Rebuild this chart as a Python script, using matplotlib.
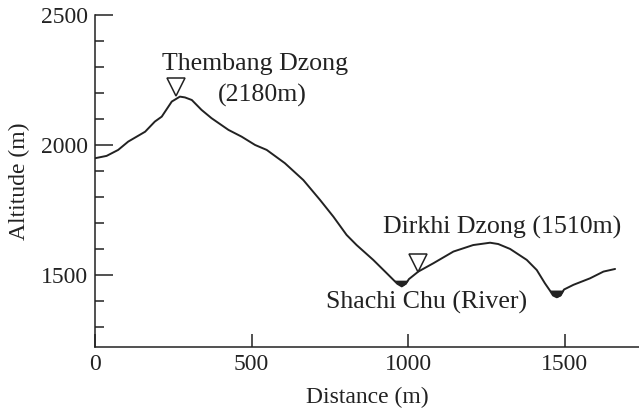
import matplotlib
matplotlib.use("Agg")
import matplotlib.pyplot as plt
import numpy as np
from matplotlib.ticker import MultipleLocator

plt.rcParams['font.family'] = ['Liberation Serif', 'DejaVu Serif']

distance = [0, 37, 74, 106, 160, 191, 213, 245, 271, 287, 309, 340, 372, 426, 468,
            511, 548, 606, 665, 718, 761, 803, 835, 888, 930, 950, 965, 979, 992,
            1002, 1032, 1080, 1144, 1207, 1261, 1287, 1325, 1378, 1410, 1436, 1452,
            1462, 1474, 1486, 1497, 1527, 1580, 1623, 1660]
altitude = [1949, 1958, 1981, 2013, 2051, 2090, 2109, 2167, 2186, 2183, 2173, 2135, 2103,
            2058, 2032, 2000, 1981, 1930, 1865, 1789, 1724, 1654, 1615, 1558, 1508,
            1484, 1466, 1456, 1466, 1484, 1513, 1545, 1590, 1615, 1624, 1619, 1600,
            1558, 1519, 1468, 1440, 1421, 1414, 1421, 1444, 1462, 1487, 1513, 1523]

river_levels = [1480, 1442]
river_spans = [(940, 1010), (1440, 1505)]

marker_x = [257, 1032]
marker_y = [2222, 1547]

labels = ["Thembang Dzong", "(2180m)", "Dirkhi Dzong (1510m)", "Shachi Chu (River)"]
label_x = [510, 535, 1301, 1058]
label_y = [2290, 2166, 1660, 1372]

x_ticks = [0, 500, 1000, 1500]
y_ticks = [1500, 2000, 2500]

W, H, DPI = 639, 413, 100
fig = plt.figure(figsize=(W / DPI, H / DPI), dpi=DPI)
ax = fig.add_axes([95 / W, (H - 346.7) / H, 544 / W, (346.7 - 15) / H])

dark = '#222222'
x = np.array(distance)
y = np.array(altitude)
ax.plot(x, y, color=dark, lw=1.4, solid_capstyle='round')
for lvl, (a, b) in zip(river_levels, river_spans):
    ax.fill_between(x, y, lvl, where=(y < lvl) & (x > a) & (x < b),
                    interpolate=True, color=dark, lw=0)

ax.plot(marker_x, marker_y, linestyle='none', marker='v', markersize=13,
        markerfacecolor='white', markeredgecolor=dark, markeredgewidth=1.1)

fs = 17
fs_ann = 18.6
for t, tx, ty in zip(labels, label_x, label_y):
    ax.text(tx, ty, t, ha='center', va='baseline', fontsize=fs_ann, color=dark)

ax.set_xlim(0, 544 / 0.3133)
ax.set_ylim(1224, 2500)
ax.set_xticks(x_ticks)
ax.set_yticks(y_ticks)
ax.yaxis.set_minor_locator(MultipleLocator(100))
ax.tick_params(axis='both', which='both', direction='in', colors=dark,
               width=1.1, labelsize=fs, labelcolor=dark)
ax.tick_params(axis='y', which='major', length=13, pad=5)
ax.tick_params(axis='y', which='minor', length=6.5)
ax.tick_params(axis='x', which='major', length=9.4, pad=5)
for s in ['top', 'right']:
    ax.spines[s].set_visible(False)
for s in ['left', 'bottom']:
    ax.spines[s].set_linewidth(1.1)
    ax.spines[s].set_color(dark)

ax.set_xlabel('Distance (m)', fontsize=fs, color=dark, labelpad=9)
ax.set_ylabel('Altitude (m)', fontsize=fs, color=dark, labelpad=8)

fig.savefig('out.png', dpi=DPI)
